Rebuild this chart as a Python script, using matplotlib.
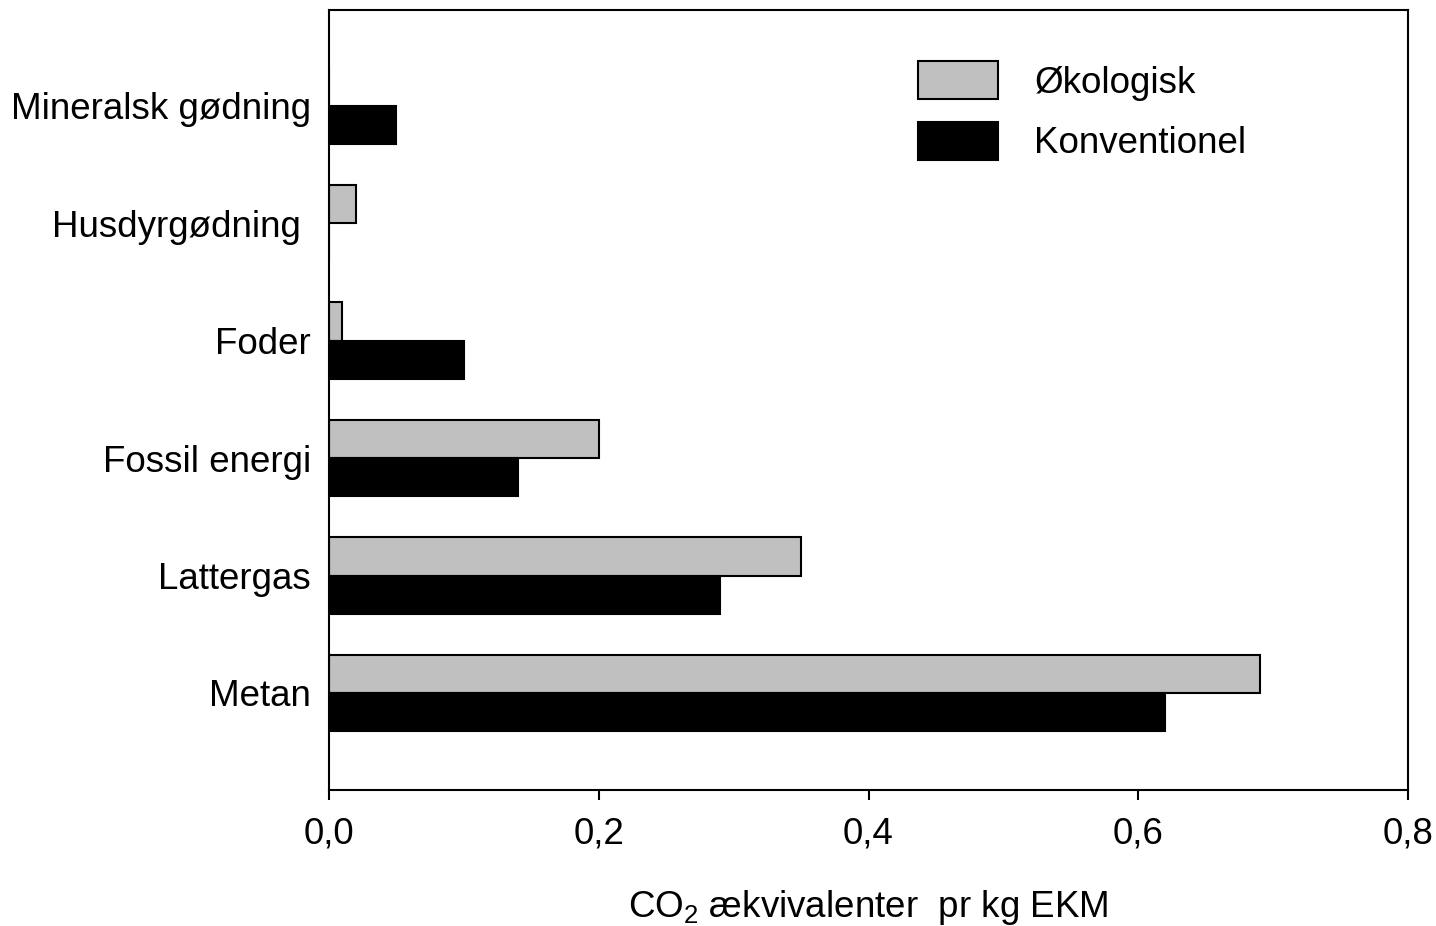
import matplotlib
matplotlib.use("Agg")
import matplotlib.pyplot as plt
import numpy as np

plt.rcParams['font.family'] = ['Liberation Sans', 'DejaVu Sans']
plt.rcParams['mathtext.fontset'] = 'custom'
plt.rcParams['mathtext.rm'] = 'Liberation Sans'
plt.rcParams['mathtext.it'] = 'Liberation Sans:italic'

categories = ["Metan", "Lattergas", "Fossil energi", "Foder", "Husdyrgødning ", "Mineralsk gødning"]
okologisk = [0.69, 0.35, 0.20, 0.01, 0.02, 0.0]
konventionel = [0.62, 0.29, 0.14, 0.10, 0.0, 0.05]
xticks = [0.0, 0.2, 0.4, 0.6, 0.8]
xticklabels = ["0,0", "0,2", "0,4", "0,6", "0,8"]

FS = 26.5

fig = plt.figure(figsize=(14.36, 9.26), dpi=100)
ax = fig.add_axes([329/1436, 1-790/926, (1408-329)/1436, 780/926])

y = np.arange(len(categories))
h = 0.325
ax.barh(y + h/2, okologisk, height=h, color='#c0c0c0', edgecolor='black', linewidth=1.5, label='Økologisk')
ax.barh(y - h/2, konventionel, height=h, color='black', edgecolor='black', linewidth=1.5, label='Konventionel')

ax.set_xlim(0, 0.8)
ax.set_ylim(-0.826, 5.814)
ax.set_xticks(xticks)
ax.set_xticklabels(xticklabels)
ax.set_yticks(y)
ax.set_yticklabels(categories)
ax.tick_params(axis='y', length=0, pad=13, labelsize=FS)
ax.tick_params(axis='x', length=7.2, width=1.5, pad=12, labelsize=FS, direction='out')
for s in ax.spines.values():
    s.set_linewidth(1.5)

ax.set_xlabel("CO$_{\\mathit{2}}$ ækvivalenter  pr kg EKM", fontsize=FS, labelpad=26)

leg = ax.legend(loc='upper left', bbox_to_anchor=(918/1436, 1-61/926), bbox_transform=fig.transFigure,
                frameon=False, fontsize=FS, handlelength=2.18, handleheight=1.22,
                labelspacing=0.58, handletextpad=0.98, borderpad=0, borderaxespad=0)

fig.savefig("out.png", dpi=100)
